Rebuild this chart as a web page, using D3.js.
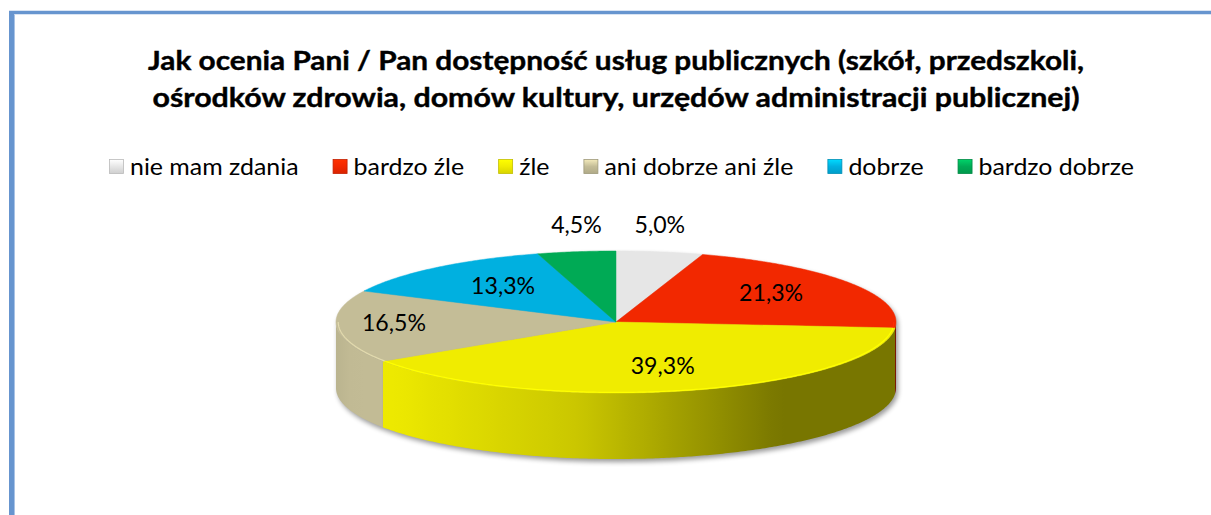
<!DOCTYPE html>
<html>
<head>
<meta charset="utf-8">
<script src="https://cdn.jsdelivr.net/npm/d3@7"></script>
<style>
  body { margin: 0; background: #fff; }
  svg { display: block; font-family: Lato, "Open Sans", sans-serif; }
</style>
</head>
<body>
<div id="container"></div>
<script>
// the data
let titleLines = [
  "Jak ocenia Pani / Pan dostępność usług publicznych (szkół, przedszkoli,",
  "ośrodków zdrowia, domów kultury, urzędów administracji publicznej)"
];
let categories = ["nie mam zdania", "bardzo źle", "źle", "ani dobrze ani źle", "dobrze", "bardzo dobrze"];
let values = [5.0, 21.3, 39.3, 16.5, 13.3, 4.5];

// styles
let colors = ["#e6e6e6", "#f22800", "#f0ec00", "#c4bd97", "#00b0e0", "#00aa55"];
// how far out each label sits (0 = centre, 1 = rim, >=1 = outside above the rim)
let labelRadius = [1.0, 0.665, 0.67, 0.795, 0.625, 1.0];

let w = 1211;
let h = 515;

let viz = d3.select("#container")
  .append("svg")
    .attr("width", w)
    .attr("height", h)
;
let defs = viz.append("defs");

// frame of the chart area (only top and left show inside the picture)
viz.append("line").attr("x1", 11.5).attr("y1", 11).attr("x2", 11.5).attr("y2", h)
  .attr("stroke", "#6795cf").attr("stroke-width", 5);
viz.append("line").attr("x1", 9).attr("y1", 12.5).attr("x2", w).attr("y2", 12.5)
  .attr("stroke", "#6795cf").attr("stroke-width", 3.5);
viz.append("line").attr("x1", 14.5).attr("y1", 14.5).attr("x2", 14.5).attr("y2", h)
  .attr("stroke", "#a9c3e6").attr("stroke-width", 1);

// squeeze a text to a width (the original font is narrower than Lato)
function squeeze(sel, target){
  sel.attr("textLength", target).attr("lengthAdjust", "spacingAndGlyphs");
}

// TITLE
let titleWidths = [936, 927];
let titleBase = [70, 107];
titleLines.forEach(function(t, i){
  let tt = viz.append("text")
    .attr("x", 616)
    .attr("y", titleBase[i])
    .attr("text-anchor", "middle")
    .attr("font-weight", "bold")
    .attr("font-size", 26.5)
    .attr("fill", "#000")
    .attr("stroke", "#000")
    .attr("stroke-width", 0.4)
    .text(t);
  squeeze(tt, titleWidths[i]);
});

// LEGEND
let legendFs = 23;
let legendGroup = viz.append("g").classed("legend", true);
let legendItems = legendGroup.selectAll(".item").data(categories).enter()
  .append("g").classed("item", true);
let legendTexts = legendItems.append("text")
  .attr("font-size", legendFs)
  .attr("fill", "#000")
  .attr("y", 175)
  .text(function(d){ return d; });
// squeeze all legend texts by one ratio so they add up to the original widths
let textSum = 0;
let natural = [];
legendTexts.each(function(){
  let l = this.getComputedTextLength();
  natural.push(l);
  textSum += l;
});
let ratio = 729 / textSum;
legendTexts.each(function(d, i){
  squeeze(d3.select(this), natural[i] * ratio);
});

let markerSize = 15;
let xPos = 0;
let itemX = [];
natural.forEach(function(l){
  itemX.push(xPos);
  xPos += markerSize + 6 + l * ratio + 34;
});
let legendWidth = xPos - 34;
let legendStart = 621.5 - legendWidth / 2;

categories.forEach(function(c, i){
  let g = defs.append("linearGradient")
    .attr("id", "mk" + i)
    .attr("x1", 0).attr("y1", 0).attr("x2", 0).attr("y2", 1);
  g.append("stop").attr("offset", 0).attr("stop-color", d3.rgb(colors[i]).brighter(0.6));
  g.append("stop").attr("offset", 0.5).attr("stop-color", colors[i]);
  g.append("stop").attr("offset", 1).attr("stop-color", d3.rgb(colors[i]).darker(0.3));
});

legendItems.attr("transform", function(d, i){
  return "translate(" + (legendStart + itemX[i]) + ",0)";
});
legendItems.append("rect")
  .attr("x", 0.5)
  .attr("y", 159.5)
  .attr("width", markerSize - 1)
  .attr("height", markerSize - 1)
  .attr("fill", function(d, i){ return "url(#mk" + i + ")"; })
  .attr("stroke", function(d, i){ return d3.rgb(colors[i]).darker(0.6); })
  .attr("stroke-width", 0.8);
legendTexts.attr("x", markerSize + 6);

// THE PIE (3D look: flat ellipse on top, walls underneath)
let cx = 616;
let cy = 322;
let rx = 280;
let ry = 71;
let depth = 66;

let pie = d3.pie().sort(null).value(function(d){ return d; });
let arcs = pie(values);

function pt(a, f, z){
  return [cx + f * rx * Math.sin(a), cy - f * ry * Math.cos(a) + z];
}
function arcPoints(a0, a1, f, z){
  let pts = [];
  let n = Math.max(2, Math.ceil((a1 - a0) / 0.01));
  for (let k = 0; k <= n; k++){
    pts.push(pt(a0 + (a1 - a0) * k / n, f, z));
  }
  return pts;
}
let line = d3.line();

// shadow under the pie
let blur = defs.append("filter").attr("id", "blur")
  .attr("x", "-10%").attr("y", "-20%").attr("width", "120%").attr("height", "140%");
blur.append("feGaussianBlur").attr("stdDeviation", 2.5);
viz.append("path")
  .attr("d", "M" + (cx - rx) + "," + cy +
    " A" + rx + "," + ry + " 0 0 1 " + (cx + rx) + "," + cy +
    " L" + (cx + rx) + "," + (cy + depth) +
    " A" + rx + "," + ry + " 0 0 1 " + (cx - rx) + "," + (cy + depth) + " Z")
  .attr("transform", "translate(2,3)")
  .attr("fill", "#000")
  .attr("opacity", 0.4)
  .attr("filter", "url(#blur)");

// lighting of the walls, from left (lit) to right (shaded)
let light = d3.scaleLinear()
  .domain([0, 0.03, 0.096, 0.436, 0.793, 1])
  .range([0.95, 0.99, 0.99, 0.84, 0.5, 0.5]);

arcs.forEach(function(d, i){
  let g = defs.append("linearGradient")
    .attr("id", "wall" + i)
    .attr("gradientUnits", "userSpaceOnUse")
    .attr("x1", cx - rx).attr("y1", 0)
    .attr("x2", cx + rx).attr("y2", 0);
  let base = d3.rgb(colors[i]);
  d3.range(0, 1.0001, 0.025).forEach(function(t){
    let k = light(t);
    let c = d3.rgb(
      Math.min(255, base.r * k),
      Math.min(255, base.g * k),
      Math.min(255, base.b * k));
    g.append("stop").attr("offset", t).attr("stop-color", c.formatHex());
  });
});

let wallGroup = viz.append("g").classed("walls", true);
arcs.forEach(function(d, i){
  let a0 = Math.max(d.startAngle, Math.PI / 2);
  let a1 = Math.min(d.endAngle, 3 * Math.PI / 2);
  if (a1 <= a0) return;
  let pts = arcPoints(a0, a1, 1, 0).concat(arcPoints(a0, a1, 1, depth).reverse());
  wallGroup.append("path")
    .attr("d", line(pts) + "Z")
    .attr("fill", "url(#wall" + i + ")");
});

// top faces
let topGroup = viz.append("g").classed("tops", true);
topGroup.selectAll(".slice").data(arcs).enter()
  .append("path")
    .classed("slice", true)
    .attr("d", function(d){
      let pts = [[cx, cy]].concat(arcPoints(d.startAngle, d.endAngle, 1, 0));
      return line(pts) + "Z";
    })
    .attr("fill", function(d, i){ return colors[i]; })
    .attr("stroke", function(d, i){ return colors[i]; })
    .attr("stroke-width", 0.5)
;

// bright bevel line along the front rim
arcs.forEach(function(d, i){
  let a0 = Math.max(d.startAngle, Math.PI / 2);
  let a1 = Math.min(d.endAngle, 3 * Math.PI / 2);
  if (a1 <= a0) return;
  topGroup.append("path")
    .attr("d", line(arcPoints(a0, a1, 0.992, 0)))
    .attr("fill", "none")
    .attr("stroke", d3.rgb(colors[i]).brighter(0.4))
    .attr("stroke-width", 1.2);
});

// DATA LABELS
let fmt = d3.format(".1f");
let labelGroup = viz.append("g").classed("labels", true);
let labels = labelGroup.selectAll("text").data(arcs).enter()
  .append("text")
    .attr("text-anchor", "middle")
    .attr("font-size", 23.5)
    .attr("fill", "#000")
    .text(function(d){ return fmt(d.data).replace(".", ",") + "%"; })
;
// narrow the digits to the original width ("39,3%" is 64px wide)
let refLen = labels.filter(function(d, i){ return i == 2; }).node().getComputedTextLength();
labels.each(function(){
  let l = this.getComputedTextLength();
  squeeze(d3.select(this), l * 64 / refLen);
});
labels
  .attr("x", function(d, i){
    let a = (d.startAngle + d.endAngle) / 2;
    return pt(a, labelRadius[i], 0)[0];
  })
  .attr("y", function(d, i){
    let a = (d.startAngle + d.endAngle) / 2;
    if (labelRadius[i] >= 1){
      // outside: above the rim
      return pt(a, 1, 0)[1] - 19;
    }
    return pt(a, labelRadius[i], 0)[1] - 3 + 8.5;
  })
;
</script>
</body>
</html>
